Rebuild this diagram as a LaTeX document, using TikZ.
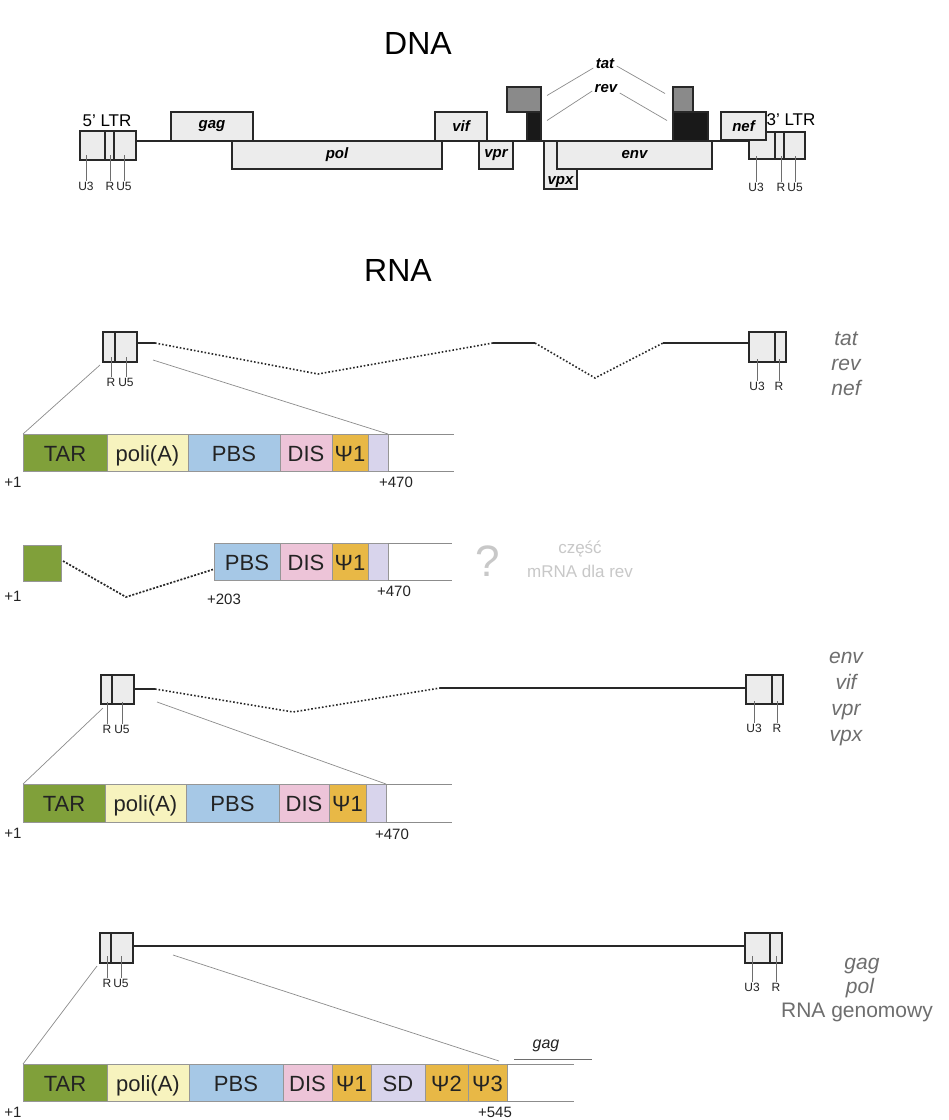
\documentclass[tikz,border=0pt]{standalone}
\usepackage{fontspec}
\setmainfont{Liberation Sans}
\usepackage{tikz}
\usetikzlibrary{positioning, calc}

\definecolor{gdark}{RGB}{40,40,40}
\definecolor{gbox}{RGB}{236,236,236}
\definecolor{ggrey}{RGB}{138,138,138}
\definecolor{gblack}{RGB}{25,25,25}
\definecolor{gtext}{RGB}{35,35,35}
\definecolor{gmid}{RGB}{110,110,110}
\definecolor{zline}{RGB}{140,140,140}
\definecolor{segline}{RGB}{150,150,150}
\definecolor{sidegrey}{RGB}{110,110,110}
\definecolor{faint}{RGB}{200,200,200}
\definecolor{ctar}{RGB}{128,160,58}
\definecolor{cpola}{RGB}{247,243,190}
\definecolor{cpbs}{RGB}{166,200,230}
\definecolor{cdis}{RGB}{237,196,216}
\definecolor{cpsi}{RGB}{232,184,70}
\definecolor{clav}{RGB}{216,212,236}

\newcommand{\fsz}[1]{\fontsize{#1}{#1}\selectfont}

\begin{document}
\begin{tikzpicture}[x=1pt, y=-1pt,
        gene/.style={rectangle, draw=gdark, fill=gbox, line width=1.5pt, inner sep=0pt, outer sep=0pt, anchor=north west, font=\fsz{15}\bfseries\itshape},
        ltr/.style={rectangle, draw=gdark, fill=gbox, line width=1.5pt, inner sep=0pt, outer sep=0pt, minimum height=30pt},
        seg/.style={rectangle, draw=segline, line width=0.7pt, inner sep=0pt, outer sep=0pt, minimum height=37pt, text height=19pt, text depth=2pt, text=gtext, font=\fsz{22}},
        ticklab/.style={font=\fsz{12}, text=gtext, inner sep=1pt},
        tickln/.style={draw=gmid, line width=0.7pt},
        rna/.style={draw=gdark, line width=1.8pt},
        splice/.style={draw=gdark, line width=1.6pt, dotted},
        zoomln/.style={draw=zline, line width=0.7pt},
        side/.style={font=\fsz{21}\itshape, text=sidegrey, text height=15pt, text depth=4pt, inner sep=0pt},
        numlab/.style={font=\fsz{15}, text=gtext}
    ]
    \path[use as bounding box, fill=white] (0,0) rectangle (949,1120);

    % ---------------- DNA ----------------
    \node[font=\fsz{32}] (dnatitle) at (418,43) {DNA};

    \coordinate (dnaL) at (136,141);
    \coordinate (dnaR) at (749,141);
    \draw[rna] (dnaL) -- (dnaR);

    % 5' LTR
    \node[ltr, minimum width=25pt, minimum height=29pt, anchor=north west] (d5u3) at (80,131) {};
    \node[ltr, minimum width=9pt, minimum height=29pt, right=0pt of d5u3] (d5r) {};
    \node[ltr, minimum width=22pt, minimum height=29pt, right=0pt of d5r] (d5u5) {};
    \node[font=\fsz{17}] (d5lab) at (107,121) {5' LTR};
    \node[ticklab] (d5u3l) at (86,186) {U3};
    \node[ticklab] (d5rl) at (110,186) {R};
    \node[ticklab] (d5u5l) at (124,186) {U5};
    \draw[tickln] (d5u3l.north) -- ++(0,-26);
    \draw[tickln] (d5rl.north) -- ++(0,-26);
    \draw[tickln] (d5u5l.north) -- ++(0,-26);

    % genes
    \node[gene, minimum width=82pt, minimum height=29pt] (gag) at (171,112) {gag};
    \node[gene, minimum width=210pt, minimum height=28pt] (pol) at (232,141) {pol};
    \node[gene, minimum width=52pt, minimum height=29pt] (vif) at (435,112) {vif};
    \node[gene, minimum width=34pt, minimum height=28pt] (vpr) at (479,141) {vpr};
    \node[gene, fill=ggrey, minimum width=34pt, minimum height=25pt] (tat1) at (507,87) {};
    \node[gene, fill=gblack, minimum width=14pt, minimum height=29pt] (rev1) at (527,112) {};
    \node[gene, minimum width=33pt, minimum height=48pt, label={[font=\fsz{15}\bfseries\itshape, anchor=south, inner sep=1pt]south:vpx}] (vpx) at (544,141) {};
    \node[gene, minimum width=155pt, minimum height=28pt] (env) at (557,141) {env};
    \node[gene, fill=ggrey, minimum width=20pt, minimum height=25pt] (tat2) at (673,87) {};
    \node[gene, fill=gblack, minimum width=35pt, minimum height=29pt] (rev2) at (673,112) {};

    % 3' LTR
    \node[ltr, minimum width=26pt, minimum height=27pt, anchor=north west] (d3u3) at (749,132) {};
    \node[ltr, minimum width=9pt, minimum height=27pt, right=0pt of d3u3] (d3r) {};
    \node[ltr, minimum width=21pt, minimum height=27pt, right=0pt of d3r] (d3u5) {};
    \node[gene, minimum width=45pt, minimum height=28pt] (nef) at (721,112) {nef};
    \node[font=\fsz{17}] (d3lab) at (791,120) {3' LTR};
    \node[ticklab] (d3u3l) at (756,187) {U3};
    \node[ticklab] (d3rl) at (781,187) {R};
    \node[ticklab] (d3u5l) at (795,187) {U5};
    \draw[tickln] (d3u3l.north) -- ++(0,-26);
    \draw[tickln] (d3rl.north) -- ++(0,-26);
    \draw[tickln] (d3u5l.north) -- ++(0,-26);

    % tat / rev exon labels
    \node[font=\fsz{15}\bfseries\itshape] (tatlab) at (605,64) {tat};
    \node[font=\fsz{15}\bfseries\itshape] (revlab) at (606,89) {rev};
    \draw[zoomln] ($(tat1.east)+(6,-4)$) -- ($(tatlab.west)+(1,4)$);
    \draw[zoomln] ($(tatlab.east)+(-1,2)$) -- ($(tat2.west)+(-8,-6)$);
    \draw[zoomln] ($(rev1.east)+(6,-6)$) -- ($(revlab.west)+(1,2)$);
    \draw[zoomln] ($(revlab.east)+(-1,4)$) -- ($(rev2.west)+(-6,-6)$);

    % ---------------- RNA ----------------
    \node[font=\fsz{32}] (rnatitle) at (398,270) {RNA};

    % tat, rev, nef
    \node[ltr, minimum width=12pt, anchor=north west] (a5r) at (103,332) {};
    \node[ltr, minimum width=22pt, right=0pt of a5r] (a5u5) {};
    \node[ltr, minimum width=26pt, anchor=north west] (a3u3) at (749,332) {};
    \node[ltr, minimum width=11pt, right=0pt of a3u3] (a3r) {};
    \coordinate (a1) at (155,343);
    \coordinate (a2) at (318,374);
    \coordinate (a3) at (493,343);
    \coordinate (a4) at (535,343);
    \coordinate (a5) at (595,378);
    \coordinate (a6) at (663,343);
    \draw[rna] (a5u5.east |- a1) -- (a1);
    \draw[splice] (a1) -- (a2) -- (a3);
    \draw[rna] (a3) -- (a4);
    \draw[splice] (a4) -- (a5) -- (a6);
    \draw[rna] (a6) -- (a3u3.west |- a6);
    \node[ticklab] (a5rl) at (111,382) {R};
    \node[ticklab] (a5u5l) at (126,382) {U5};
    \node[ticklab] (a3u3l) at (757,386) {U3};
    \node[ticklab] (a3rl) at (779,386) {R};
    \draw[tickln] (a5rl.north) -- ++(0,-20);
    \draw[tickln] (a5u5l.north) -- ++(0,-20);
    \draw[tickln] (a3u3l.north) -- ++(0,-22);
    \draw[tickln] (a3rl.north) -- ++(0,-22);
    \node[side] (s1a) at (846,340) {tat};
    \node[side] (s1b) at (846,365) {rev};
    \node[side] (s1c) at (846,390) {nef};

    \node[seg, fill=ctar, minimum width=84pt, anchor=north west] (tar1) at (23,434) {TAR};
    \node[seg, fill=cpola, minimum width=81pt, right=0pt of tar1] (pola1) {poli(A)};
    \node[seg, fill=cpbs, minimum width=92pt, right=0pt of pola1] (pbs1) {PBS};
    \node[seg, fill=cdis, minimum width=52pt, right=0pt of pbs1] (dis1) {DIS};
    \node[seg, fill=cpsi, minimum width=36pt, right=0pt of dis1] (psi1) {Ψ1};
    \node[seg, fill=clav, minimum width=20pt, right=0pt of psi1] (lav1) {};
    \coordinate (end1) at (454,434);
    \draw[zoomln] (lav1.north east) -- (end1);
    \draw[zoomln] (lav1.south east) -- (end1 |- lav1.south);
    \draw[zoomln] ($(a5r.south west)+(-3,3)$) -- (tar1.north west);
    \draw[zoomln] ($(a5u5.south east)+(16,-2)$) -- (lav1.north east);
    \node[numlab] (n1a) at (13,482) {+1};
    \node[numlab] (n1b) at (396,482) {+470};

    % part of mRNA for rev
    \node[seg, fill=ctar, minimum width=38pt, minimum height=36pt, anchor=north west] (tar2) at (23,545) {};
    \node[seg, fill=cpbs, minimum width=66pt, anchor=north west] (pbs2) at (214,543) {PBS};
    \node[seg, fill=cdis, minimum width=52pt, right=0pt of pbs2] (dis2) {DIS};
    \node[seg, fill=cpsi, minimum width=36pt, right=0pt of dis2] (psi2) {Ψ1};
    \node[seg, fill=clav, minimum width=20pt, right=0pt of psi2] (lav2) {};
    \coordinate (end2) at (452,543);
    \draw[zoomln] (lav2.north east) -- (end2);
    \draw[zoomln] (lav2.south east) -- (end2 |- lav2.south);
    \coordinate (b1) at (126,597);
    \draw[draw=gdark, line width=1.7pt, dash pattern=on 2pt off 1.6pt] ($(tar2.east)+(2,-2)$) -- (b1) -- ($(pbs2.west)+(-1,8)$);
    \node[numlab] (n2a) at (13,596) {+1};
    \node[numlab] (n2b) at (224,599) {+203};
    \node[numlab] (n2c) at (394,591) {+470};
    \node[font=\fsz{44}, text=faint] (qmark) at (488,561) {?};
    \node[font=\fsz{17}, text=faint] (revnote1) at (580,549) {część};
    \node[font=\fsz{17}, text=faint] (revnote2) at (580,571) {mRNA dla rev};

    % env, vif, vpr, vpx
    \node[ltr, minimum width=11pt, minimum height=29pt, anchor=north west] (c5r) at (101,675) {};
    \node[ltr, minimum width=22pt, minimum height=29pt, right=0pt of c5r] (c5u5) {};
    \node[ltr, minimum width=26pt, minimum height=29pt, anchor=north west] (c3u3) at (746,675) {};
    \node[ltr, minimum width=11pt, minimum height=29pt, right=0pt of c3u3] (c3r) {};
    \coordinate (c1) at (155,689);
    \coordinate (c2) at (293,712);
    \coordinate (c3) at (440,688);
    \draw[rna] (c5u5.east |- c1) -- (c1);
    \draw[splice] (c1) -- (c2) -- (c3);
    \draw[rna] (c3) -- (c3u3.west |- c3);
    \node[ticklab] (c5rl) at (107,729) {R};
    \node[ticklab] (c5u5l) at (122,729) {U5};
    \node[ticklab] (c3u3l) at (754,728) {U3};
    \node[ticklab] (c3rl) at (777,728) {R};
    \draw[tickln] (c5rl.north) -- ++(0,-22);
    \draw[tickln] (c5u5l.north) -- ++(0,-22);
    \draw[tickln] (c3u3l.north) -- ++(0,-22);
    \draw[tickln] (c3rl.north) -- ++(0,-22);
    \node[side] (s3a) at (846,658) {env};
    \node[side] (s3b) at (846,684) {vif};
    \node[side] (s3c) at (846,710) {vpr};
    \node[side] (s3d) at (846,736) {vpx};

    \node[seg, fill=ctar, minimum width=82pt, minimum height=38pt, anchor=north west] (tar3) at (23,784) {TAR};
    \node[seg, fill=cpola, minimum width=81pt, minimum height=38pt, right=0pt of tar3] (pola3) {poli(A)};
    \node[seg, fill=cpbs, minimum width=93pt, minimum height=38pt, right=0pt of pola3] (pbs3) {PBS};
    \node[seg, fill=cdis, minimum width=50pt, minimum height=38pt, right=0pt of pbs3] (dis3) {DIS};
    \node[seg, fill=cpsi, minimum width=37pt, minimum height=38pt, right=0pt of dis3] (psi3) {Ψ1};
    \node[seg, fill=clav, minimum width=20pt, minimum height=38pt, right=0pt of psi3] (lav3) {};
    \coordinate (end3) at (452,784);
    \draw[zoomln] (lav3.north east) -- (end3);
    \draw[zoomln] (lav3.south east) -- (end3 |- lav3.south);
    \draw[zoomln] ($(c5r.south west)+(2,4)$) -- (tar3.north west);
    \draw[zoomln] ($(c5u5.south east)+(23,-2)$) -- (lav3.north east);
    \node[numlab] (n3a) at (13,833) {+1};
    \node[numlab] (n3b) at (392,834) {+470};

    % gag, pol, genomic RNA
    \node[ltr, minimum width=11pt, anchor=north west] (g5r) at (100,933) {};
    \node[ltr, minimum width=22pt, right=0pt of g5r] (g5u5) {};
    \node[ltr, minimum width=25pt, anchor=north west] (g3u3) at (745,933) {};
    \node[ltr, minimum width=12pt, right=0pt of g3u3] (g3r) {};
    \coordinate (g1) at (133,946);
    \draw[rna] (g5u5.east |- g1) -- (g3u3.west |- g1);
    \node[ticklab] (g5rl) at (107,983) {R};
    \node[ticklab] (g5u5l) at (121,983) {U5};
    \node[ticklab] (g3u3l) at (752,987) {U3};
    \node[ticklab] (g3rl) at (776,987) {R};
    \draw[tickln] (g5rl.north) -- ++(0,-22);
    \draw[tickln] (g5u5l.north) -- ++(0,-22);
    \draw[tickln] (g3u3l.north) -- ++(0,-26);
    \draw[tickln] (g3rl.north) -- ++(0,-26);
    \node[side] (s4a) at (862,964) {gag};
    \node[side] (s4b) at (860,988) {pol};
    \node[side, font=\fsz{21}] (s4c) at (857,1012) {RNA genomowy};

    \node[seg, fill=ctar, minimum width=84pt, anchor=north west] (tar4) at (23,1064) {TAR};
    \node[seg, fill=cpola, minimum width=82pt, right=0pt of tar4] (pola4) {poli(A)};
    \node[seg, fill=cpbs, minimum width=94pt, right=0pt of pola4] (pbs4) {PBS};
    \node[seg, fill=cdis, minimum width=49pt, right=0pt of pbs4] (dis4) {DIS};
    \node[seg, fill=cpsi, minimum width=39pt, right=0pt of dis4] (psia4) {Ψ1};
    \node[seg, fill=clav, minimum width=54pt, right=0pt of psia4] (sd4) {SD};
    \node[seg, fill=cpsi, minimum width=43pt, right=0pt of sd4] (psib4) {Ψ2};
    \node[seg, fill=cpsi, minimum width=39pt, right=0pt of psib4] (psic4) {Ψ3};
    \coordinate (end4) at (574,1064);
    \draw[zoomln] (psic4.north east) -- (end4);
    \draw[zoomln] (psic4.south east) -- (end4 |- psic4.south);
    \draw[zoomln] ($(g5r.south west)+(-3,3)$) -- (tar4.north west);
    \draw[zoomln] ($(g5u5.south east)+(40,-8)$) -- ($(psic4.north east)+(-8,-3)$);
    \node[font=\fsz{16}\itshape, text=gtext] (gaglab) at (546,1046) {gag};
    \coordinate (gagL) at (514,1059);
    \coordinate (gagR) at (592,1059);
    \draw[draw=gmid, line width=0.9pt] (gagL) -- (gagR);
    \node[numlab] (n4a) at (13,1112) {+1};
    \node[numlab] (n4b) at (495,1112) {+545};
\end{tikzpicture}
\end{document}
